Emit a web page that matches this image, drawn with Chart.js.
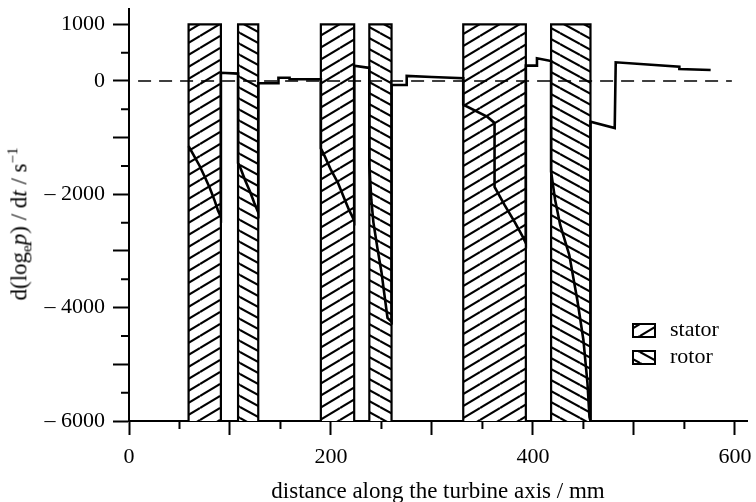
<!DOCTYPE html>
<html>
<head>
<meta charset="utf-8">
<script src="https://cdn.jsdelivr.net/npm/chart.js@4/dist/chart.umd.min.js"></script>
<style>
  body { margin: 0; background: #fff; }
  #wrap { position: relative; width: 756px; height: 502px; }
  #ytitle {
    position: absolute; left: 20px; top: 224px;
    transform: translate(-50%, -50%) rotate(-90deg);
    white-space: nowrap; font: 23px "Liberation Serif", serif; color: #000;
  }
  #ytitle sub, #ytitle sup { font-size: 15px; }
</style>
</head>
<body>
<div id="wrap">
  <canvas id="myChart" width="756" height="502"></canvas>
  <div id="ytitle">d(log<sub>e</sub><i>p</i>) / d<i>t</i> / s<sup>&minus;1</sup></div>
</div>
<script>
// blade rows along the axis (mm)
const statorFrom = [59, 190, 331];
const statorTo = [91, 223, 393];
const rotorFrom = [108, 238, 418];
const rotorTo = [128, 260, 457];
const bladeTop = 1000;
const bladeBottom = -6000;

// d(log p)/dt along the turbine, [mm, 1/s]
const pressureRate = [
  [59, -1150], [64, -1310], [70, -1500], [75, -1690], [80, -1890], [85, -2120], [88, -2280], [91, -2400],
  [91, 145], [108, 130],
  [108, -1450], [110, -1520], [115, -1750], [120, -1960], [124, -2150], [128, -2320],
  [128, -40], [148, -40], [148, 58], [159, 58], [159, 30], [190, 30],
  [190, -1190], [194, -1335], [200, -1570], [207, -1800], [213, -2065], [218, -2280], [223, -2460],
  [223, 270], [236, 235], [238, 235],
  [238, -1480], [240, -2100], [242, -2490], [246, -2950], [250, -3370], [253, -3780], [256, -4180], [260, -4250],
  [260, -70], [275, -70], [275, 90], [300, 70], [331, 47],
  [331, -420], [355, -635], [362, -740], [362, -1870], [372, -2190], [382, -2490], [390, -2750], [393, -2860],
  [393, 270], [404, 270], [404, 400], [418, 353],
  [418, -1600], [422, -2100], [427, -2540], [436, -3070], [444, -3870], [450, -4570], [454, -5330], [456, -5930], [457, -6000],
  [457, -720], [481, -830], [482, 330], [545, 253], [545, 212], [576, 194]
];
const zeroLine = [[9, 0], [597, 0]];

const xMajor = [0, 100, 200, 300, 400, 500, 600];
const xLabels = [0, 200, 400, 600];
const xMinor = [50, 150, 250, 350, 450, 550];
const yMajor = [-6000, -5000, -4000, -3000, -2000, -1000, 0, 1000];
const yLabels = [1000, 0, -2000, -4000, -6000];
const yMinor = [500, -500, -1500, -2500, -3500, -4500, -5500];
const legendNames = ['stator', 'rotor'];

function hatch(rising, h) {
  const c = document.createElement('canvas');
  c.width = 20; c.height = h;
  const g = c.getContext('2d');
  g.fillStyle = '#fff';
  g.fillRect(0, 0, 20, h);
  g.strokeStyle = '#000';
  g.lineWidth = 2.1;
  for (const off of [-h, 0, h]) {
    g.beginPath();
    if (rising) { g.moveTo(0, h + off); g.lineTo(20, off); }
    else { g.moveTo(0, off); g.lineTo(20, h + off); }
    g.stroke();
  }
  return g.createPattern(c, 'repeat');
}
const statorFill = hatch(true, 12);
const rotorFill = hatch(false, 11);

function bladeRow(from, to, fillStyle) {
  return {
    data: [{x: from, y: bladeBottom}, {x: from, y: bladeTop}, {x: to, y: bladeTop}, {x: to, y: bladeBottom}],
    borderColor: '#000',
    borderWidth: 2.2,
    backgroundColor: fillStyle,
    fill: 'start',
    pointRadius: 0,
    order: 3
  };
}

const datasets = [
  {
    data: pressureRate.map(p => ({x: p[0], y: p[1]})),
    borderColor: '#000',
    borderWidth: 2.6,
    pointRadius: 0,
    fill: false,
    order: 1
  },
  {
    data: zeroLine.map(p => ({x: p[0], y: p[1]})),
    borderColor: '#000',
    borderWidth: 1.5,
    borderDash: [13, 8],
    pointRadius: 0,
    fill: false,
    order: 2
  }
];
for (let i = 0; i < statorFrom.length; i++) datasets.push(bladeRow(statorFrom[i], statorTo[i], statorFill));
for (let i = 0; i < rotorFrom.length; i++) datasets.push(bladeRow(rotorFrom[i], rotorTo[i], rotorFill));

// short ticks between the labelled ones, plus the key
const extras = {
  id: 'extras',
  afterDraw(chart) {
    const {ctx, scales: {x, y}} = chart;
    ctx.save();
    ctx.strokeStyle = '#000';
    ctx.lineWidth = 2;
    ctx.beginPath();
    xMinor.forEach(v => {
      const px = x.getPixelForValue(v);
      ctx.moveTo(px, y.bottom); ctx.lineTo(px, y.bottom + 8);
    });
    yMinor.forEach(v => {
      const py = y.getPixelForValue(v);
      ctx.moveTo(x.left, py); ctx.lineTo(x.left - 8, py);
    });
    ctx.stroke();

    const fills = [statorFill, rotorFill];
    ctx.font = '22px "Liberation Serif", serif';
    ctx.textBaseline = 'middle';
    legendNames.forEach((name, i) => {
      const cy = 330 + i * 27;
      ctx.fillStyle = fills[i];
      ctx.fillRect(633, cy - 6, 22, 13);
      ctx.lineWidth = 2;
      ctx.strokeRect(633, cy - 6, 22, 13);
      ctx.fillStyle = '#000';
      ctx.fillText(name, 670, cy);
    });
    ctx.restore();
  }
};

Chart.defaults.font.family = '"Liberation Serif", serif';
Chart.defaults.font.size = 22;
Chart.defaults.color = '#000';

const ctx = document.getElementById('myChart').getContext('2d');
const chart = new Chart(ctx, {
  type: 'line',
  data: { datasets: datasets },
  options: {
    responsive: false,
    animation: false,
    devicePixelRatio: 1,
    layout: { padding: { top: 9, right: 9, left: 0, bottom: 0 } },
    plugins: { legend: { display: false }, tooltip: { enabled: false } },
    scales: {
      x: {
        type: 'linear',
        min: 0,
        max: 612,
        afterBuildTicks: s => { s.ticks = xMajor.map(v => ({value: v})); },
        afterFit: s => { s.height = 81; s.paddingLeft = 0; s.paddingRight = 0; },
        border: { color: '#000', width: 2 },
        grid: { drawOnChartArea: false, tickLength: 14, tickWidth: 2, tickColor: '#000' },
        ticks: {
          autoSkip: false,
          maxRotation: 0,
          padding: 9,
          callback: v => xLabels.includes(v) ? String(v) : ''
        },
        title: {
          display: true,
          text: 'distance along the turbine axis / mm',
          font: { size: 23, lineHeight: 0.85 },
          padding: 0
        }
      },
      y: {
        type: 'linear',
        min: -6000,
        max: 1270,
        afterBuildTicks: s => { s.ticks = yMajor.map(v => ({value: v})); },
        afterFit: s => { s.width = 129; s.paddingTop = 0; s.paddingBottom = 0; },
        border: { color: '#000', width: 2 },
        grid: { drawOnChartArea: false, tickLength: 16, tickWidth: 2, tickColor: '#000' },
        ticks: {
          autoSkip: false,
          padding: 8,
          callback: v => yLabels.includes(v) ? (v < 0 ? '\u2013 ' + Math.abs(v) : String(v)) : ''
        }
      }
    }
  },
  plugins: [extras]
});
</script>
</body>
</html>
